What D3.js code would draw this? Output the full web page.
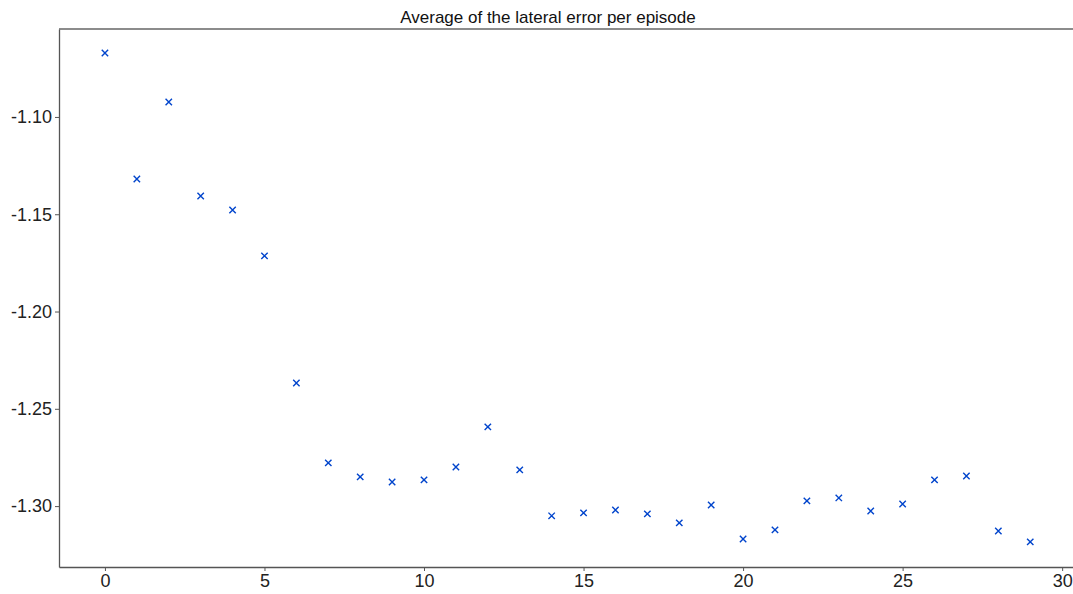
<!DOCTYPE html>
<html>
<head>
<meta charset="utf-8">
<script src="https://cdn.jsdelivr.net/npm/d3@7"></script>
<style>
body { margin: 0; background: #fff; }
svg { display: block; font-family: "Liberation Sans", Arial, sans-serif; }
.tick text { fill: #222; font-size: 18px; }
</style>
</head>
<body>
<div class="chart"></div>
<script>
var svgWidth = 1073;
var svgHeight = 594;

var margin = {top: 29, right: 0, bottom: 27, left: 59};

var chartWidth = svgWidth - margin.left - margin.right;
var chartHeight = svgHeight - margin.top - margin.bottom;

// episode index and lateral error average
var episodes = d3.range(0, 30);
var lateralError = [
	-1.0671, -1.1319, -1.0923, -1.1406, -1.1478, -1.1714, -1.2367, -1.2778, -1.2850, -1.2876,
	-1.2865, -1.2799, -1.2593, -1.2814, -1.3050, -1.3035, -1.3020, -1.3040, -1.3086, -1.2994,
	-1.3169, -1.3122, -1.2973, -1.2958, -1.3025, -1.2989, -1.2865, -1.2845, -1.3128, -1.3184
];
var xTicks = [0, 5, 10, 15, 20, 25, 30];
var yTicks = [-1.10, -1.15, -1.20, -1.25, -1.30];

var svg = d3.select(".chart")
	.append("svg")
	.attr("width", svgWidth)
	.attr("height", svgHeight);

var chart = svg.append("g")
	.attr("transform", `translate(${margin.left}, ${margin.top})`);

var xScale = d3.scaleLinear().domain([-1.44, 30.34]).range([0, chartWidth]);
var yScale = d3.scaleLinear().domain([-1.3313, -1.0548]).range([chartHeight, 0]);

var bottomAxis = d3.axisBottom(xScale).tickValues(xTicks).tickSizeInner(4).tickSizeOuter(0).tickPadding(3)
	.tickFormat(d3.format("d"));
var leftAxis = d3.axisLeft(yScale).tickValues(yTicks).tickSizeInner(4).tickSizeOuter(0).tickPadding(3)
	.tickFormat(function(d) { return d.toFixed(2); });

var xAxisG = chart.append("g")
	.attr("transform", `translate(0, ${chartHeight})`)
	.call(bottomAxis);
var yAxisG = chart.append("g").call(leftAxis);

[xAxisG, yAxisG].forEach(function(g) {
	g.select(".domain").attr("stroke", "#555").attr("stroke-width", 1.3);
	g.selectAll(".tick line").attr("stroke", "#555");
	g.selectAll(".tick text").attr("font-family", "Liberation Sans, Arial, sans-serif");
});

// top frame line
chart.append("line")
	.attr("x1", 0).attr("x2", chartWidth)
	.attr("y1", 0).attr("y2", 0)
	.attr("stroke", "#666")
	.attr("stroke-width", 1.3);

// x markers
var s = 3.2;
chart.selectAll(".mark")
	.data(lateralError)
	.enter().append("path")
	.attr("class", "mark")
	.attr("transform", function(d, i) {
		return `translate(${xScale(episodes[i])}, ${yScale(d)})`;
	})
	.attr("d", `M${-s},${-s}L${s},${s}M${-s},${s}L${s},${-s}`)
	.attr("stroke", "#0044cc")
	.attr("stroke-width", 1.4)
	.attr("fill", "none");

svg.append("text")
	.attr("x", 548)
	.attr("y", 23)
	.attr("text-anchor", "middle")
	.attr("font-size", "17px")
	.attr("fill", "#111")
	.text("Average of the lateral error per episode");
</script>
</body>
</html>
